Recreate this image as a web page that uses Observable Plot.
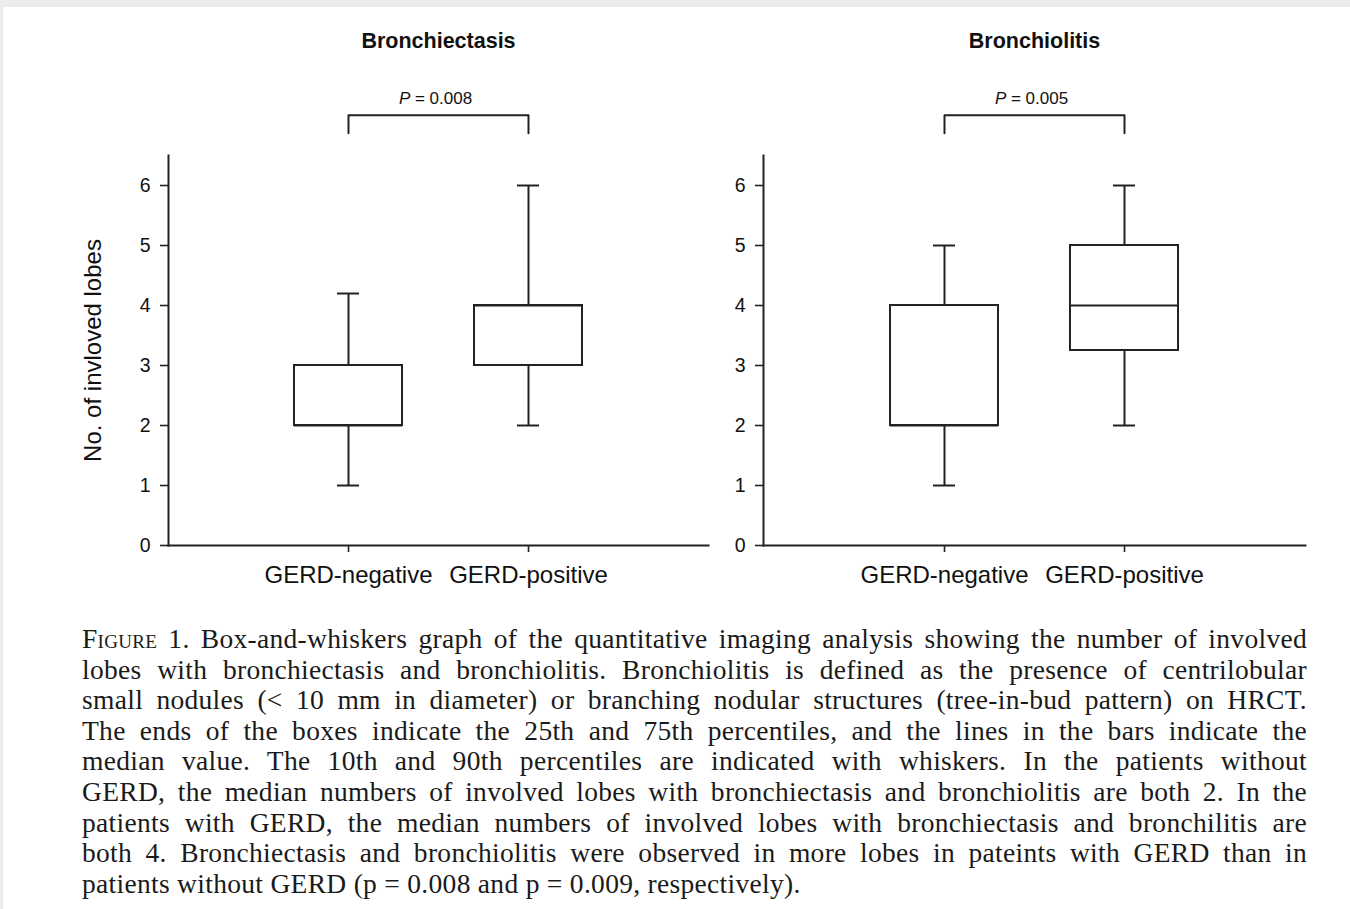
<!DOCTYPE html>
<html>
<head>
<meta charset="utf-8">
<script src="https://cdn.jsdelivr.net/npm/d3@7"></script>
<script src="https://cdn.jsdelivr.net/npm/@observablehq/plot@0.6"></script>
<style>
  html, body { margin: 0; padding: 0; background: #ececec; }
  #page { position: absolute; left: 3px; top: 7px; width: 1347px; height: 902px; background: #fff; }
  .panel { position: absolute; top: -7px; }
  #caption { position: absolute; left: 79px; top: 617px; width: 1225px;
    font-family: "Liberation Serif", "Times New Roman", serif; font-size: 27.5px; letter-spacing: 0.3px; color: #1a1a1a; line-height: 30.6px; }
  #caption .ln { text-align: justify; text-align-last: justify; white-space: nowrap; }
  #caption .last { text-align: left; text-align-last: left; }
  .sc { font-variant: small-caps; }
</style>
</head>
<body>
<div id="page">
  <div id="left" class="panel" style="left:-3px"></div>
  <div id="right" class="panel" style="left:592px"></div>
  <div id="caption"></div>
</div>
<script>
// ---- data ----
const groups = ["GERD-negative", "GERD-positive"];
const panelTitles = ["Bronchiectasis", "Bronchiolitis"];
const pValues = ["0.008", "0.005"];
// whisker low (10th), Q1 (25th), median, Q3 (75th), whisker high (90th)
const bronchiectasisLo  = [1, 2];
const bronchiectasisQ1  = [2, 3];
const bronchiectasisMed = [2, 4];
const bronchiectasisQ3  = [3, 4];
const bronchiectasisHi  = [4.2, 6];
const bronchiolitisLo  = [1, 2];
const bronchiolitisQ1  = [2, 3.25];
const bronchiolitisMed = [2, 4];
const bronchiolitisQ3  = [4, 5];
const bronchiolitisHi  = [5, 6];
const yTicks = [0, 1, 2, 3, 4, 5, 6];
const yLabel = "No. of invloved lobes";
const bracketLow = 6.87, bracketHigh = 7.17;

const captionLines = [
  ["<span class='sc'>Figure</span> 1. Box-and-whiskers graph of the quantitative imaging analysis showing the number of involved", false],
  ["lobes with bronchiectasis and bronchiolitis. Bronchiolitis is defined as the presence of centrilobular", false],
  ["small nodules (&lt; 10 mm in diameter) or branching nodular structures (tree-in-bud pattern) on HRCT.", false],
  ["The ends of the boxes indicate the 25th and 75th percentiles, and the lines in the bars indicate the", false],
  ["median value. The 10th and 90th percentiles are indicated with whiskers. In the patients without", false],
  ["GERD, the median numbers of involved lobes with bronchiectasis and bronchiolitis are both 2. In the", false],
  ["patients with GERD, the median numbers of involved lobes with bronchiectasis and bronchilitis are", false],
  ["both 4. Bronchiectasis and bronchiolitis were observed in more lobes in pateints with GERD than in", false],
  ["patients without GERD (p = 0.008 and p = 0.009, respectively).", true]
];

function rows(lo, q1, med, q3, hi) {
  return groups.map((g, i) => ({group: g, lo: lo[i], q1: q1[i], med: med[i], q3: q3[i], hi: hi[i]}));
}

const ink = "#222";
const sans = "'Liberation Sans', Arial, Helvetica, sans-serif";

function panel(data, title, p, withLabel, mr) {
  const bracket = [
    {group: groups[0], y: bracketLow}, {group: groups[0], y: bracketHigh},
    {group: groups[1], y: bracketHigh}, {group: groups[1], y: bracketLow}
  ];
  const marks = [
    Plot.ruleX(data, {x: "group", y1: "lo", y2: "q1", stroke: ink, strokeWidth: 2}),
    Plot.ruleX(data, {x: "group", y1: "q3", y2: "hi", stroke: ink, strokeWidth: 2}),
    Plot.tickY(data, {x: "group", y: "lo", stroke: ink, strokeWidth: 2, insetLeft: 43, insetRight: 43}),
    Plot.tickY(data, {x: "group", y: "hi", stroke: ink, strokeWidth: 2, insetLeft: 43, insetRight: 43}),
    Plot.barY(data, {x: "group", y1: "q1", y2: "q3", fill: "white", stroke: ink, strokeWidth: 2}),
    Plot.tickY(data, {x: "group", y: "med", stroke: ink, strokeWidth: 2}),
    Plot.line(bracket, {x: "group", y: "y", stroke: ink, strokeWidth: 2, clip: false}),
    Plot.axisY({ticks: yTicks, tickSize: 8, tickPadding: 10, fontSize: 19.5, tickFormat: d3.format("d"), label: null, stroke: ink, strokeWidth: 1.6, fill: "#111"}),
    Plot.axisX({tickSize: 7, tickPadding: 13, fontSize: 24, label: null, stroke: ink, strokeWidth: 1.6, fill: "#111"}),
    Plot.frame({anchor: "left", stroke: ink, strokeWidth: 2}),
    Plot.frame({anchor: "bottom", stroke: ink, strokeWidth: 2}),
    Plot.text([title], {frameAnchor: "top", dy: -114, fontSize: 21.5, fontWeight: "bold", fill: "#111", lineAnchor: "middle"}),
    Plot.text([p], {frameAnchor: "top", dy: -57, dx: -3, fontSize: 17, fill: "#111", lineAnchor: "middle"})
  ];
  if (withLabel) {
    marks.push(Plot.text([yLabel], {frameAnchor: "left", dx: -75, rotate: -90, fontSize: 24, fill: "#111",
      lineAnchor: "middle", textAnchor: "middle"}));
  }
  return Plot.plot({
    width: 720, height: 610,
    marginLeft: 168, marginRight: mr, marginTop: 155, marginBottom: 65,
    style: {fontFamily: sans, background: "transparent", overflow: "visible"},
    x: {type: "band", domain: groups, paddingInner: 0.4, paddingOuter: 0.7, align: 0.5},
    y: {domain: [0, 6.5]},
    marks
  });
}

const leftPlot = panel(rows(bronchiectasisLo, bronchiectasisQ1, bronchiectasisMed, bronchiectasisQ3, bronchiectasisHi),
  panelTitles[0], "P = " + pValues[0], true, 12);
const rightPlot = panel(rows(bronchiolitisLo, bronchiolitisQ1, bronchiolitisMed, bronchiolitisQ3, bronchiolitisHi),
  panelTitles[1], "P = " + pValues[1], false, 10);

document.getElementById("left").appendChild(leftPlot);
document.getElementById("right").appendChild(rightPlot);

// italic P
for (const svg of [leftPlot, rightPlot]) {
  svg.querySelectorAll("text").forEach(t => {
    const s = t.textContent;
    if (s.startsWith("P = ")) {
      t.textContent = "";
      const a = document.createElementNS("http://www.w3.org/2000/svg", "tspan");
      a.setAttribute("font-style", "italic"); a.textContent = "P";
      const b = document.createElementNS("http://www.w3.org/2000/svg", "tspan");
      b.textContent = s.slice(1);
      t.appendChild(a); t.appendChild(b);
    }
  });
}

const cap = document.getElementById("caption");
for (const [html, last] of captionLines) {
  const d = document.createElement("div");
  d.className = "ln" + (last ? " last" : "");
  d.innerHTML = html;
  cap.appendChild(d);
}
</script>
</body>
</html>
